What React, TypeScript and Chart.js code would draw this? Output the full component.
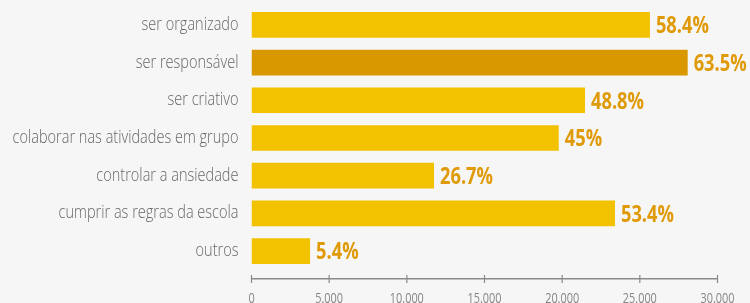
import React, { useEffect, useRef } from "react";
import { Chart, registerables } from "chart.js";

Chart.register(...registerables);

const categories = [
  "ser organizado",
  "ser responsável",
  "ser criativo",
  "colaborar nas atividades em grupo",
  "controlar a ansiedade",
  "cumprir as regras da escola",
  "outros",
];
const values = [25650, 28080, 21470, 19780, 11750, 23400, 3770];
const percents = [58.4, 63.5, 48.8, 45, 26.7, 53.4, 5.4];
const xTicks = [0, 5000, 10000, 15000, 20000, 25000, 30000];
const highlightIndex = 1;

const FONT = "'Open Sans', Lato, sans-serif";
const BG = "#f6f6f6";
const YELLOW = "#f2c200";
const DARK = "#da9800";
const LABEL_COLOR = "#e09a08";
const AXIS_COLOR = "#8a8a8a";

const fmtThousands = (v: number) =>
  v === 0 ? "0" : String(v).replace(/\B(?=(\d{3})+(?!\d))/g, ".");

// draw condensed text: text squeezed horizontally by factor sx
function condensedText(ctx: any, text: string, x: number, y: number, sx: number, align: string) {
  const w = ctx.measureText(text).width * sx;
  let left = x;
  if (align === "right") left = x - w;
  else if (align === "center") left = x - w / 2;
  ctx.save();
  ctx.translate(left, y);
  ctx.scale(sx, 1);
  ctx.textAlign = "left";
  ctx.fillText(text, 0, 0);
  ctx.restore();
}

const textPlugin = {
  id: "textPlugin",
  afterDraw(chart: any) {
    const ctx = chart.ctx;
    const xs = chart.scales.x;
    const ys = chart.scales.y;
    const meta = chart.getDatasetMeta(0);
    ctx.save();
    ctx.textBaseline = "alphabetic";

    // category labels
    ctx.font = `300 18.5px ${FONT}`;
    ctx.fillStyle = "#666666";
    const widest = ctx.measureText(categories[3]).width;
    const sxCat = 226 / widest;
    categories.forEach((c, i) => {
      condensedText(ctx, c, chart.chartArea.left - 13, ys.getPixelForValue(i) + 5, sxCat, "right");
    });

    // value labels
    ctx.font = `bold 23px ${FONT}`;
    ctx.fillStyle = LABEL_COLOR;
    const sxVal = 53 / ctx.measureText("58.4%").width;
    meta.data.forEach((el: any, i: number) => {
      condensedText(ctx, `${percents[i]}%`, el.x + 6, el.y + 8.3, sxVal, "left");
    });

    // x tick marks and labels
    const y = xs.top;
    ctx.strokeStyle = AXIS_COLOR;
    ctx.lineWidth = 1.2;
    ctx.font = `400 14.5px ${FONT}`;
    ctx.fillStyle = "#858585";
    const sxTick = 34 / ctx.measureText("10.000").width;
    xs.ticks.forEach((t: any, i: number) => {
      const px = xs.getPixelForTick(i);
      ctx.beginPath();
      ctx.moveTo(px, y - 4);
      ctx.lineTo(px, y + 4);
      ctx.stroke();
      condensedText(ctx, fmtThousands(t.value), px, y + 23.5, sxTick, "center");
    });
    ctx.restore();
  },
};

export default function App() {
  const ref = useRef<HTMLCanvasElement | null>(null);
  useEffect(() => {
    if (!ref.current) return;
    const chart = new Chart(ref.current, {
      type: "bar",
      data: {
        datasets: [
          {
            data: values.map((v, i) => ({ x: v, y: i })),
            backgroundColor: values.map((_, i) => (i === highlightIndex ? DARK : YELLOW)),
            borderWidth: 0,
            barPercentage: 0.68,
            categoryPercentage: 1,
          },
        ],
      },
      options: {
        indexAxis: "y",
        animation: false,
        responsive: false,
        maintainAspectRatio: false,
        layout: { padding: { top: 6, right: 32.5, bottom: 24, left: 0 } },
        plugins: { legend: { display: false }, tooltip: { enabled: false } },
        scales: {
          x: {
            type: "linear",
            min: 0,
            max: 30000,
            offset: false,
            afterBuildTicks: (scale: any) => {
              scale.ticks = xTicks.map((v) => ({ value: v }));
            },
            afterFit: (scale: any) => {
              scale.height = 0;
            },
            grid: { display: false, drawTicks: false },
            border: { display: true, color: AXIS_COLOR, width: 1.5 },
            ticks: { display: false },
          },
          y: {
            type: "linear",
            reverse: true,
            offset: false,
            min: -0.5,
            max: 6.74,
            afterBuildTicks: (scale: any) => {
              scale.ticks = categories.map((_, i) => ({ value: i }));
            },
            afterFit: (scale: any) => {
              scale.width = 251.5;
            },
            grid: { display: false, drawTicks: false, offset: false },
            border: { display: false },
            ticks: { display: false },
          },
        },
      },
      plugins: [textPlugin],
    });
    return () => chart.destroy();
  }, []);
  return (
    <div style={{ position: "fixed", left: 0, top: 0, width: 750, height: 303, background: BG }}>
      <canvas ref={ref} width={750} height={303} style={{ width: 750, height: 303, display: "block" }} />
    </div>
  );
}
